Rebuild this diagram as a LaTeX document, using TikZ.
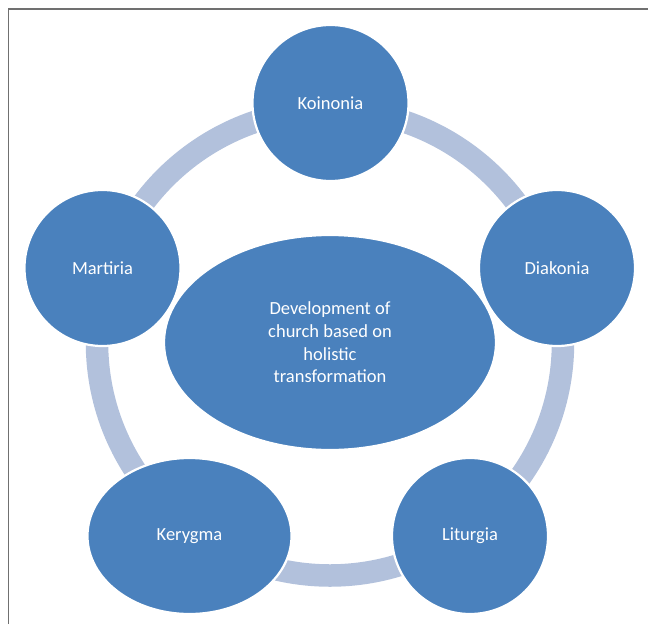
\documentclass[tikz,border=0pt]{standalone}
\usepackage{fontspec}
\setmainfont{Carlito}
\usetikzlibrary{shapes.geometric}
\definecolor{nodeblue}{RGB}{74,129,189}
\definecolor{ringblue}{RGB}{178,193,220}
\definecolor{framegray}{RGB}{112,112,112}
\tikzset{
  petal/.style={circle, fill=nodeblue, draw=white, line width=2.2pt, minimum size=156pt, inner sep=0pt,
    text=white, font=\fontsize{18.5}{22.7}\selectfont},
  oval/.style={ellipse, fill=nodeblue, draw=white, line width=2.2pt, inner sep=0pt,
    text=white, font=\fontsize{18.5}{22.7}\selectfont, align=center},
  ring/.style={draw=ringblue, line width=22.5pt},
  frame/.style={draw=framegray, line width=1.4pt}
}
\begin{document}
\begin{tikzpicture}[x=1pt,y=-1pt]
\useasboundingbox (0,0) rectangle (648,624);
\draw[frame] (8.5,624) -- (8.5,9) -- (648,9);
\coordinate (hub) at (330,342.5);
\draw[ring] (hub) circle[radius=233];
\node[oval, minimum width=332pt, minimum height=215pt] (core) at (hub)
  {Development of\\church based on\\holistic\\transformation};
\node[petal] (koinonia) at (330.5,103) {Koinonia};
\node[petal] (diakonia) at (557,268) {Diakonia};
\node[petal] (martiria) at (102.5,268) {Martiria};
\node[oval, minimum width=204pt, minimum height=156pt] (kerygma) at (189.5,536) {Kerygma};
\node[petal] (liturgia) at (470,536) {Liturgia};
\end{tikzpicture}
\end{document}
